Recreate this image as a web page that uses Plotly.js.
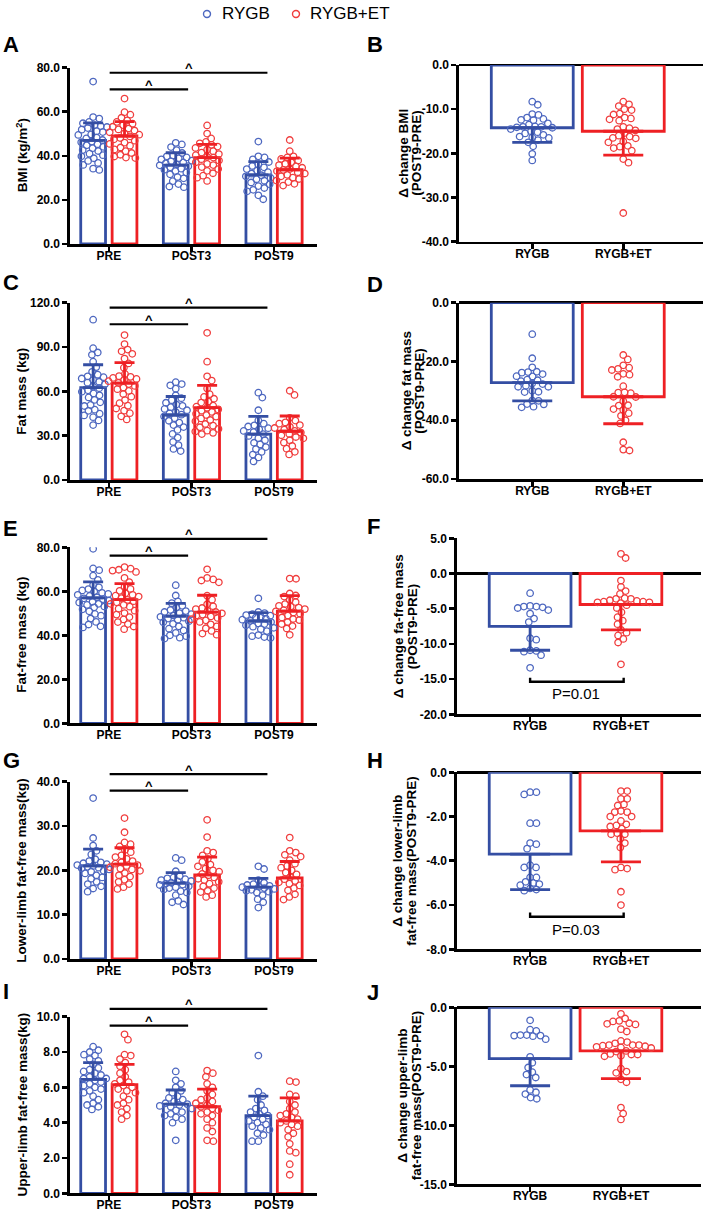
<!DOCTYPE html>
<html><head><meta charset="utf-8">
<script src="https://cdn.plot.ly/plotly-3.0.1.min.js"></script>
<style>html,body{margin:0;padding:0;background:#fff}#chart{width:709px;height:1213px}</style>
</head><body><div id="chart"></div>
<script>
// ---------------- DATA ----------------
const timepoints = ['PRE', 'POST3', 'POST9'];
const groups = ['RYGB', 'RYGB+ET'];

// A: BMI
const bmiMeanRYGB = [47.0, 35.8, 31.4];
const bmiSdRYGB = [8.0, 5.6, 6.0];
const bmiMeanET = [49.0, 39.2, 33.7];
const bmiSdET = [6.5, 6.0, 5.3];
const bmiPtsRYGB = [
  [73.7, 57.6, 56.9, 55.4, 54.8, 53.9, 53.5, 53.1, 52.6, 51.9, 51.2, 50.8, 49.7, 49.5, 48.3, 47.9, 47.2, 46.5, 46.2, 45.3, 44.8, 44.1, 43.5, 42.6, 42.2, 41.0, 40.3, 39.8, 38.9, 37.7, 36.8, 35.9, 34.2, 33.6],
  [45.9, 45.2, 44.0, 42.6, 41.3, 40.2, 39.8, 39.3, 38.9, 38.4, 37.8, 37.5, 37.0, 36.6, 36.1, 35.7, 35.3, 34.8, 34.2, 33.7, 33.1, 32.5, 31.6, 30.4, 29.8, 28.5, 27.2, 26.1, 25.8],
  [46.5, 39.8, 39.3, 38.4, 37.2, 36.1, 35.4, 34.8, 34.0, 33.3, 32.6, 31.9, 31.2, 30.7, 30.0, 29.4, 28.7, 27.9, 27.1, 26.3, 25.4, 24.6, 23.9, 22.1, 20.3]
];
const bmiPtsET = [
  [66.0, 59.8, 58.7, 57.3, 56.1, 55.4, 54.6, 53.9, 53.2, 52.4, 52.0, 51.5, 50.7, 50.2, 49.6, 48.8, 48.1, 47.5, 46.9, 46.0, 45.4, 44.6, 43.8, 42.9, 42.1, 41.3, 40.5, 39.7, 39.2, 39.0],
  [53.8, 50.1, 47.9, 46.3, 45.7, 45.0, 44.2, 43.6, 42.8, 42.1, 41.5, 40.8, 40.3, 39.6, 39.2, 38.5, 37.9, 37.1, 36.4, 35.8, 34.9, 34.0, 33.2, 32.1, 31.0, 30.1, 28.6],
  [47.2, 42.1, 39.8, 39.3, 38.6, 37.9, 37.1, 36.4, 35.8, 35.2, 34.6, 34.0, 33.6, 33.1, 32.6, 32.0, 31.4, 30.7, 30.1, 29.5, 28.8, 28.1, 27.3, 26.5]
];

// B: delta BMI
const dBmiMean = [-14.2, -15.0];
const dBmiSd = [3.3, 5.4];
const dBmiPtsRYGB = [-8.3, -9.0, -11.1, -11.3, -11.9, -12.2, -12.4, -12.5, -13.2, -13.5, -13.9, -14.0, -14.0, -14.1, -14.2, -14.5, -15.0, -15.2, -15.5, -15.8, -16.2, -16.4, -16.5, -17.0, -17.5, -18.4, -20.1, -21.6];
const dBmiPtsET = [-8.3, -8.9, -9.3, -10.0, -10.2, -11.0, -11.2, -11.9, -12.1, -12.3, -12.6, -14.0, -14.3, -14.5, -14.8, -15.4, -16.0, -16.2, -16.5, -16.6, -17.3, -17.5, -18.3, -18.5, -18.8, -19.4, -21.3, -22.1, -33.5];

// C: fat mass
const fmMeanRYGB = [62.5, 44.0, 31.0];
const fmSdRYGB = [15.5, 12.5, 12.0];
const fmMeanET = [65.5, 49.0, 33.0];
const fmSdET = [14.0, 15.0, 10.3];
const fmPtsRYGB = [
  [108.5, 89.2, 86.3, 84.7, 80.1, 76.4, 73.2, 71.3, 70.2, 69.6, 68.7, 67.8, 66.5, 65.9, 64.8, 63.2, 62.1, 60.7, 59.8, 58.6, 57.3, 55.9, 54.2, 52.6, 50.8, 50.1, 47.6, 46.8, 44.9, 43.7, 42.5, 40.3, 37.2],
  [66.2, 64.9, 64.1, 61.8, 57.3, 55.4, 54.0, 52.3, 51.1, 50.2, 49.3, 48.1, 47.2, 46.0, 45.1, 44.2, 43.0, 41.8, 40.1, 38.9, 37.2, 35.8, 33.9, 31.2, 28.7, 25.8, 23.6, 21.0, 19.6],
  [59.1, 55.8, 47.2, 40.3, 38.1, 37.0, 36.2, 35.1, 34.3, 33.2, 32.4, 31.0, 29.8, 28.3, 26.9, 25.2, 24.1, 22.3, 20.9, 19.0, 17.2, 15.3, 12.6]
];
const fmPtsET = [
  [98.1, 92.0, 88.3, 87.1, 85.4, 82.2, 78.9, 76.0, 71.8, 70.3, 69.8, 69.1, 68.4, 67.7, 66.9, 65.8, 64.9, 63.7, 62.6, 61.5, 60.3, 58.2, 56.4, 54.1, 52.0, 50.3, 48.4, 46.9, 45.2, 43.1, 41.0],
  [99.6, 80.1, 70.2, 67.3, 62.0, 58.1, 56.2, 55.0, 53.1, 52.4, 50.3, 49.6, 48.9, 47.8, 46.9, 46.1, 44.8, 44.0, 42.9, 41.7, 40.6, 39.8, 37.9, 36.8, 35.7, 34.6, 33.4, 32.8, 31.9, 31.1],
  [60.4, 57.6, 42.1, 40.2, 39.0, 38.1, 37.2, 36.0, 35.2, 34.1, 33.3, 32.1, 31.2, 30.3, 29.1, 28.2, 26.9, 25.3, 23.0, 21.2, 19.1, 17.3]
];

// D: delta fat mass
const dFmMean = [-27.2, -32.0];
const dFmSd = [6.2, 9.2];
const dFmPtsRYGB = [-10.7, -18.9, -22.0, -23.5, -23.6, -23.8, -24.3, -25.0, -25.1, -26.2, -26.4, -26.7, -27.5, -27.7, -28.3, -28.6, -28.6, -30.0, -30.3, -30.4, -33.3, -33.4, -34.5, -34.6, -35.4, -35.6];
const dFmPtsET = [-17.8, -19.3, -21.3, -22.1, -22.5, -22.9, -24.2, -24.5, -25.2, -28.4, -30.5, -30.6, -30.8, -32.0, -32.1, -33.5, -34.9, -35.0, -36.2, -36.5, -37.6, -38.5, -40.0, -41.1, -47.5, -50.0, -50.3];

// E: fat-free mass
const ffmMeanRYGB = [57.0, 48.7, 46.5];
const ffmSdRYGB = [7.3, 5.8, 3.8];
const ffmMeanET = [56.2, 50.5, 51.0];
const ffmSdET = [7.3, 7.7, 7.0];
const ffmPtsRYGB = [
  [79.3, 70.4, 69.6, 67.1, 65.2, 62.9, 61.8, 61.0, 60.4, 59.9, 59.3, 58.8, 58.4, 57.9, 57.3, 56.8, 56.4, 55.8, 55.2, 54.9, 54.3, 53.8, 53.1, 52.7, 51.8, 50.9, 49.7, 48.9, 47.6, 46.1, 44.9, 44.1, 43.6],
  [62.8, 58.1, 55.4, 54.6, 53.4, 52.6, 51.5, 51.0, 50.6, 50.1, 49.6, 49.0, 48.4, 48.0, 47.6, 47.1, 46.4, 45.9, 45.2, 44.1, 43.0, 42.2, 41.1, 40.0, 39.6, 38.9, 38.5],
  [56.8, 50.6, 50.1, 49.6, 49.2, 48.9, 48.4, 48.1, 47.6, 47.1, 46.6, 46.0, 45.4, 45.1, 44.6, 43.9, 43.4, 42.8, 41.9, 40.1, 39.6, 39.2, 38.8]
];
const ffmPtsET = [
  [71.0, 70.3, 69.8, 69.4, 68.8, 66.1, 64.2, 62.0, 61.1, 60.2, 59.1, 58.4, 58.0, 57.6, 56.9, 56.1, 55.5, 55.0, 54.3, 53.8, 53.0, 52.1, 51.2, 50.1, 49.4, 48.3, 47.2, 46.0, 45.1, 44.0, 42.8],
  [70.0, 66.1, 65.4, 64.9, 64.1, 58.0, 56.2, 54.1, 53.2, 52.4, 51.9, 51.1, 50.6, 50.0, 49.4, 49.0, 48.6, 47.9, 47.3, 46.8, 46.1, 45.0, 44.1, 43.2, 42.0, 40.8, 40.3],
  [65.8, 65.7, 59.0, 58.1, 57.6, 56.1, 55.1, 54.2, 53.4, 53.0, 52.6, 51.9, 51.4, 50.9, 50.4, 49.8, 49.0, 48.1, 47.4, 46.9, 46.0, 45.1, 44.2, 43.1, 40.2]
];

// F: delta fat-free mass
const dFfmMean = [-7.5, -4.4];
const dFfmSd = [3.4, 3.6];
const dFfmPtsRYGB = [-2.8, -4.6, -4.7, -4.7, -4.8, -4.9, -5.2, -5.7, -6.4, -6.9, -9.2, -9.4, -10.9, -11.0, -11.1, -11.6, -13.4];
const dFfmPtsET = [2.8, 2.2, -1.0, -1.9, -2.5, -2.9, -3.5, -3.6, -3.6, -3.8, -3.9, -4.0, -4.0, -4.1, -4.1, -4.2, -4.5, -4.9, -5.5, -6.2, -6.7, -7.2, -8.0, -8.4, -8.8, -9.3, -9.8, -12.9];

// G: lower-limb fat-free mass
const llMeanRYGB = [21.0, 17.1, 16.2];
const llSdRYGB = [3.8, 2.4, 2.0];
const llMeanET = [21.4, 19.0, 18.3];
const llSdET = [3.7, 4.0, 3.7];
const llPtsRYGB = [
  [36.3, 27.3, 25.6, 24.4, 23.6, 22.5, 22.1, 21.8, 21.6, 21.4, 21.2, 21.0, 20.8, 20.6, 20.5, 20.2, 19.9, 19.7, 19.3, 18.9, 18.4, 18.1, 17.4, 16.9, 16.4, 15.9, 15.2],
  [22.8, 22.3, 19.8, 18.7, 18.4, 18.2, 18.0, 17.8, 17.6, 17.5, 17.2, 17.0, 16.8, 16.7, 16.4, 16.2, 16.0, 15.7, 15.3, 15.0, 14.4, 13.1, 12.8, 12.3],
  [20.9, 20.3, 17.8, 17.2, 16.9, 16.7, 16.5, 16.3, 16.2, 16.0, 15.8, 15.6, 15.4, 15.2, 15.0, 14.4, 13.5, 12.8, 11.6]
];
const llPtsET = [
  [31.8, 28.6, 26.3, 25.9, 25.4, 24.6, 24.1, 23.4, 23.0, 22.6, 22.1, 21.8, 21.5, 21.2, 21.0, 20.7, 20.4, 20.2, 19.9, 19.4, 18.9, 18.6, 17.9, 17.4, 16.9, 16.2, 15.8],
  [31.4, 27.5, 24.4, 24.0, 23.4, 22.6, 21.9, 21.3, 20.9, 20.4, 20.0, 19.7, 19.2, 18.9, 18.4, 18.1, 17.8, 17.4, 17.0, 16.4, 16.0, 15.4, 15.1, 14.4, 14.0],
  [27.4, 24.4, 24.0, 23.5, 23.1, 22.3, 21.5, 21.0, 20.6, 20.0, 19.5, 19.1, 18.5, 18.0, 17.6, 17.3, 17.0, 16.6, 16.0, 15.5, 14.6, 14.0, 13.4]
];

// H: delta lower-limb fat-free mass
const dLlMean = [-3.7, -2.65];
const dLlSd = [1.6, 1.4];
const dLlPtsRYGB = [-0.9, -1.0, -0.9, -2.3, -2.3, -3.2, -3.25, -3.45, -4.2, -4.3, -4.3, -4.75, -4.75, -4.95, -5.05, -5.1, -5.0, -5.25, -5.3, -5.35];
const dLlPtsET = [-0.85, -0.85, -1.2, -1.2, -1.45, -1.5, -1.75, -1.8, -1.8, -2.0, -2.0, -2.2, -2.35, -2.4, -2.45, -2.55, -2.75, -2.8, -2.8, -3.0, -3.2, -3.4, -4.3, -4.35, -4.4, -5.4, -6.0];

// I: upper-limb fat-free mass
const ulMeanRYGB = [6.45, 5.05, 4.4];
const ulSdRYGB = [0.95, 0.8, 1.1];
const ulMeanET = [6.15, 4.9, 4.1];
const ulSdET = [1.15, 1.0, 1.3];
const ulPtsRYGB = [
  [8.3, 8.1, 8.0, 7.85, 7.8, 7.6, 7.5, 7.3, 7.1, 7.0, 6.9, 6.8, 6.7, 6.6, 6.5, 6.5, 6.4, 6.3, 6.2, 6.1, 6.0, 5.9, 5.8, 5.7, 5.5, 5.3, 5.1, 5.0, 4.9, 4.75],
  [6.9, 6.4, 6.2, 6.0, 5.8, 5.7, 5.5, 5.4, 5.3, 5.2, 5.1, 5.05, 5.0, 4.95, 4.9, 4.8, 4.7, 4.6, 4.5, 4.4, 4.3, 4.2, 4.0, 3.0],
  [7.8, 5.75, 5.5, 5.3, 5.0, 4.8, 4.7, 4.6, 4.5, 4.4, 4.3, 4.2, 4.1, 4.0, 3.9, 3.8, 3.7, 3.6, 3.4, 3.3, 2.95, 2.95]
];
const ulPtsET = [
  [9.0, 8.7, 7.85, 7.8, 7.6, 7.4, 7.2, 7.0, 6.8, 6.6, 6.4, 6.3, 6.2, 6.1, 6.0, 5.9, 5.8, 5.7, 5.5, 5.3, 5.1, 5.0, 4.8, 4.6, 4.4, 4.2],
  [6.95, 6.8, 6.6, 6.2, 6.0, 5.8, 5.6, 5.4, 5.3, 5.2, 5.1, 5.0, 4.9, 4.8, 4.7, 4.6, 4.5, 4.4, 4.2, 4.0, 3.7, 3.5, 3.0, 2.95],
  [6.35, 6.3, 5.6, 5.5, 5.2, 5.0, 4.8, 4.6, 4.5, 4.4, 4.3, 4.2, 4.1, 4.0, 3.9, 3.8, 3.6, 3.4, 3.2, 2.8, 2.4, 2.3, 1.65, 1.05]
];

// J: delta upper-limb fat-free mass
const dUlMean = [-4.35, -3.7];
const dUlSd = [2.3, 2.35];
const dUlPtsRYGB = [-1.1, -1.9, -2.0, -2.35, -2.35, -2.4, -2.4, -2.45, -2.7, -4.2, -4.7, -5.1, -5.5, -5.7, -5.95, -7.0, -7.2, -7.35, -7.65, -7.75];
const dUlPtsET = [-0.55, -0.95, -1.15, -1.2, -1.35, -1.4, -1.45, -1.85, -2.05, -2.85, -2.95, -3.05, -3.2, -3.2, -3.2, -3.25, -3.3, -3.35, -3.4, -3.45, -3.7, -3.75, -3.95, -4.0, -4.0, -4.1, -4.15, -5.2, -5.45, -5.55, -6.1, -6.35, -8.5, -9.0, -9.5];

// ---------------- STYLE / LAYOUT ----------------
const W = 709, H = 1213;
const FONT = '"Liberation Sans", Arial, sans-serif';
const barColor = ['rgb(52,78,163)', 'rgb(238,32,36)'];
const ptColor = ['rgb(78,104,192)', 'rgb(240,62,62)'];
const LX = [70, 317], LXR = [-0.47, 2.52], LOFF = [-0.19, 0.19], LBW = 0.30;
const RXR = [-0.805, 1.876], RBW = 0.9;
// legend placement (pixels): marker centre x, text left x, centre y
const legendPos = [{mx: 207, tx: 221}, {mx: 296, tx: 309}], legendY = 14;

const panels = [
  {side: 'L', letter: 'A', top: 67.7, bottom: 244, yr: [0, 80], ytv: [0, 20, 40, 60, 80], title: 'BMI (kg/m<sup>2</sup>)',
   mean: [bmiMeanRYGB, bmiMeanET], sd: [bmiSdRYGB, bmiSdET], pts: [bmiPtsRYGB, bmiPtsET], sig: [77.7, 70.2], ly: 44.5},
  {side: 'R', letter: 'B', top: 65, bottom: 241.7, x: [459, 703], yr: [-40, 0], ytv: [0, -10, -20, -30, -40], t1: 'Δ change BMI', t2: '(POST9-PRE)', t1x: 403.5, t2x: 416.5,
   mean: dBmiMean, sd: dBmiSd, pts: [dBmiPtsRYGB, dBmiPtsET], ly: 44.5},
  {side: 'L', letter: 'C', top: 302.7, bottom: 480, yr: [0, 120], ytv: [0, 30, 60, 90, 120], title: 'Fat mass (kg)',
   mean: [fmMeanRYGB, fmMeanET], sd: [fmSdRYGB, fmSdET], pts: [fmPtsRYGB, fmPtsET], sig: [116.6, 105.4], ly: 282.5},
  {side: 'R', letter: 'D', top: 302.7, bottom: 479, x: [459, 703], yr: [-60, 0], ytv: [0, -20, -40, -60], t1: 'Δ change fat mass', t2: '(POST9-PRE)', t1x: 406.5, t2x: 420,
   mean: dFmMean, sd: dFmSd, pts: [dFmPtsRYGB, dFmPtsET], ly: 284},
  {side: 'L', letter: 'E', top: 547.3, bottom: 723.3, yr: [0, 80], ytv: [0, 20, 40, 60, 80], title: 'Fat-free mass (kg)',
   mean: [ffmMeanRYGB, ffmMeanET], sd: [ffmSdRYGB, ffmSdET], pts: [ffmPtsRYGB, ffmPtsET], sig: [83.8, 76.2], ly: 528.5},
  {side: 'R', letter: 'F', top: 538.3, bottom: 714.3, x: [457, 700.5], yr: [-20, 5], ytv: [5, 0, -5, -10, -15, -20], t1: 'Δ change fa-free mass', t2: '(POST9-PRE)', t1x: 398, t2x: 412,
   mean: dFfmMean, sd: dFfmSd, pts: [dFfmPtsRYGB, dFfmPtsET], ly: 526.5, bracket: {y: -15.37, tip: -14.8, text: 'P=0.01', ty: -17.1}},
  {side: 'L', letter: 'G', top: 781.7, bottom: 959, yr: [0, 40], ytv: [0, 10, 20, 30, 40], title: 'Lower-limb fat-free mass(kg)',
   mean: [llMeanRYGB, llMeanET], sd: [llSdRYGB, llSdET], pts: [llPtsRYGB, llPtsET], sig: [41.7, 38.0], ly: 760.5},
  {side: 'R', letter: 'H', top: 772.3, bottom: 949.3, x: [457, 700.5], yr: [-8, 0], ytv: [0, -2, -4, -6, -8], t1: 'Δ change lower-limb', t2: 'fat-free mass(POST9-PRE)', t1x: 398, t2x: 412,
   mean: dLlMean, sd: dLlSd, pts: [dLlPtsRYGB, dLlPtsET], ly: 760.5, bracket: {y: -6.53, tip: -6.34, text: 'P=0.03', ty: -7.09}},
  {side: 'L', letter: 'I', top: 1016.7, bottom: 1193.3, yr: [0, 10], ytv: [0, 2, 4, 6, 8, 10], title: 'Upper-limb fat-free mass(kg)',
   mean: [ulMeanRYGB, ulMeanET], sd: [ulSdRYGB, ulSdET], pts: [ulPtsRYGB, ulPtsET], sig: [10.44, 9.49], ly: 991.5},
  {side: 'R', letter: 'J', top: 1007.3, bottom: 1184.3, x: [457, 700.5], yr: [-15, 0], ytv: [0, -5, -10, -15], t1: 'Δ change upper-limb', t2: 'fat-free mass(POST9-PRE)', t1x: 403, t2x: 416.5,
   mean: dUlMean, sd: dUlSd, pts: [dUlPtsRYGB, dUlPtsET], ly: 992.5}
];

// simple beeswarm (pixel space) -> horizontal offsets
function swarm(vals, pxPerY, d, maxSpread) {
  const order = vals.map((v, i) => i).sort((a, b) => vals[b] - vals[a]);
  const placed = [], out = new Array(vals.length);
  for (const i of order) {
    const y = vals[i] * pxPerY;
    const cands = [0];
    for (const p of placed) {
      const dy = Math.abs(p.y - y);
      if (dy < d) { const dx = Math.sqrt(d * d - dy * dy); cands.push(p.x + dx, p.x - dx); }
    }
    cands.sort((a, b) => Math.abs(a) - Math.abs(b));
    let best = null;
    for (const c of cands) {
      if (Math.abs(c) > maxSpread) continue;
      if (placed.every(p => (p.x - c) ** 2 + (p.y - y) ** 2 >= d * d - 0.01)) { best = c; break; }
    }
    if (best === null) {
      let bs = -Infinity;
      for (let c = -maxSpread; c <= maxSpread; c += 0.5) {
        const m = Math.min(...placed.map(p => Math.hypot(p.x - c, p.y - y)));
        if (m > bs) { bs = m; best = c; }
      }
    }
    placed.push({x: best, y}); out[i] = best;
  }
  return out;
}

const fmt = v => v.toFixed(1);
const data = [], layout = {
  width: W, height: H, margin: {l: 0, r: 0, t: 0, b: 0},
  paper_bgcolor: '#fff', plot_bgcolor: 'rgba(0,0,0,0)',
  barmode: 'overlay', showlegend: false,
  font: {family: FONT, color: '#000'},
  shapes: [], annotations: []
};
const bold = (size) => ({family: FONT, size: size, color: '#000', weight: 700});

// custom legend: open-circle shapes (pixel-sized) + text
groups.forEach((g, i) => {
  const lp = legendPos[i];
  layout.shapes.push({type: 'circle', xref: 'paper', yref: 'paper', xsizemode: 'pixel', ysizemode: 'pixel',
    xanchor: lp.mx / W, yanchor: 1 - legendY / H, x0: -3.5, x1: 3.5, y0: -3.5, y1: 3.5,
    line: {color: ptColor[i], width: 1.4}, fillcolor: 'rgba(0,0,0,0)'});
  layout.annotations.push({xref: 'paper', yref: 'paper', x: lp.tx / W, y: 1 - legendY / H, xanchor: 'left',
    yanchor: 'middle', text: g, showarrow: false, borderpad: 0, font: {family: FONT, size: 17, color: '#000'}});
});

panels.forEach((p, k) => {
  const n = k + 1, xa = 'x' + (n === 1 ? '' : n), ya = 'y' + (n === 1 ? '' : n);
  const xKey = 'xaxis' + (n === 1 ? '' : n), yKey = 'yaxis' + (n === 1 ? '' : n);
  const xpx = p.side === 'L' ? LX : p.x;
  const xr = p.side === 'L' ? LXR : RXR;
  const pxPerX = (xpx[1] - xpx[0]) / (xr[1] - xr[0]);
  const pxPerY = (p.bottom - p.top) / (p.yr[1] - p.yr[0]);
  layout[xKey] = {
    domain: [xpx[0] / W, xpx[1] / W], range: xr, anchor: ya, fixedrange: true,
    tickmode: 'array', tickvals: p.side === 'L' ? timepoints.map((c, i) => i) : groups.map((c, i) => i),
    ticktext: p.side === 'L' ? timepoints : groups,
    showline: true, linecolor: '#000', linewidth: 2.6, ticks: 'outside', ticklen: 5, tickwidth: 2.6, tickcolor: '#000',
    ticklabelstandoff: -6,
    showgrid: false, zeroline: false, tickfont: bold(12)
  };
  layout[yKey] = {
    domain: [1 - p.bottom / H, 1 - p.top / H], range: p.yr, anchor: xa, fixedrange: true,
    tickmode: 'array', tickvals: p.ytv, ticktext: p.ytv.map(fmt),
    showline: true, linecolor: '#000', linewidth: 2.6, ticks: 'outside', ticklen: 5, tickwidth: 2.6, tickcolor: '#000',
    showgrid: false, zeroline: p.side === 'R', zerolinecolor: '#000', zerolinewidth: 2.6, tickfont: bold(12)
  };

  if (p.side === 'L') {
    for (let g = 0; g < 2; g++) {
      const xs = timepoints.map((c, i) => i + LOFF[g]);
      data.push({type: 'bar', x: xs, y: p.mean[g], width: LBW, xaxis: xa, yaxis: ya, name: groups[g],
        marker: {color: '#fff', line: {color: barColor[g], width: 2.8}}, hoverinfo: 'skip'});
    }
    for (let g = 0; g < 2; g++) {
      const px = [], py = [];
      p.pts[g].forEach((arr, i) => {
        const off = swarm(arr, pxPerY, 6.3, 16);
        arr.forEach((v, j) => { px.push(i + LOFF[g] + off[j] / pxPerX); py.push(v); });
      });
      data.push({type: 'scatter', mode: 'markers', x: px, y: py, xaxis: xa, yaxis: ya, name: groups[g],
        marker: {symbol: 'circle-open', size: 6.5, color: ptColor[g], line: {width: 1.3, color: ptColor[g]}}, hoverinfo: 'skip'});
    }
    for (let g = 0; g < 2; g++) {
      const xs = timepoints.map((c, i) => i + LOFF[g]);
      data.push({type: 'scatter', mode: 'markers', x: xs, y: p.mean[g], xaxis: xa, yaxis: ya, name: groups[g],
        marker: {size: 1, opacity: 0}, hoverinfo: 'skip',
        error_y: {type: 'data', symmetric: false, array: p.sd[g], arrayminus: p.sd[g].map(() => 0),
                  color: barColor[g], thickness: 2.8, width: 10}});
    }
    // significance lines
    const top = p.yr[1];
    const ends = [1.92, 0.96];
    p.sig.forEach((v, s) => {
      const fy = v / top;
      layout.shapes.push({type: 'line', xref: xa, yref: ya + ' domain', x0: 0.01, x1: ends[s], y0: fy, y1: fy,
        line: {color: '#000', width: 2.2}});
      layout.annotations.push({xref: xa, yref: ya + ' domain', x: (0.01 + ends[s]) / 2, y: fy, yanchor: 'middle',
        yshift: 5, text: '^', showarrow: false, font: bold(13)});
    });
    layout.annotations.push({xref: 'paper', yref: 'paper', x: 21.5 / W, y: 1 - (p.top + p.bottom) / 2 / H,
      xanchor: 'center', yanchor: 'middle', textangle: -90, text: p.title, showarrow: false, font: bold(13.5)});
  } else {
    for (let g = 0; g < 2; g++) {
      data.push({type: 'bar', x: [g], y: [p.mean[g]], width: RBW, xaxis: xa, yaxis: ya, name: groups[g],
        marker: {color: '#fff', line: {color: barColor[g], width: 2.8}}, hoverinfo: 'skip'});
    }
    for (let g = 0; g < 2; g++) {
      const off = swarm(p.pts[g], pxPerY, 6.3, 32);
      data.push({type: 'scatter', mode: 'markers', x: p.pts[g].map((v, j) => g + off[j] / pxPerX), y: p.pts[g],
        xaxis: xa, yaxis: ya, name: groups[g],
        marker: {symbol: 'circle-open', size: 6.5, color: ptColor[g], line: {width: 1.3, color: ptColor[g]}}, hoverinfo: 'skip'});
    }
    for (let g = 0; g < 2; g++) {
      const neg = p.mean[g] < 0;
      data.push({type: 'scatter', mode: 'markers', x: [g], y: [p.mean[g]], xaxis: xa, yaxis: ya, name: groups[g],
        marker: {size: 1, opacity: 0}, hoverinfo: 'skip',
        error_y: {type: 'data', symmetric: false, array: [neg ? 0 : p.sd[g]], arrayminus: [neg ? p.sd[g] : 0],
                  color: barColor[g], thickness: 2.8, width: 20}});
    }
    if (p.bracket) {
      const b = p.bracket;
      layout.shapes.push({type: 'path', xref: xa, yref: ya,
        path: `M 0,${b.tip} L 0,${b.y} L 1.03,${b.y} L 1.03,${b.tip}`, line: {color: '#000', width: 2.4}});
      layout.annotations.push({xref: xa, yref: ya, x: 0.5, y: b.ty, text: b.text, showarrow: false,
        xanchor: 'center', yanchor: 'middle', font: {family: FONT, size: 15, color: '#000'}});
    }
    const cy = 1 - (p.top + p.bottom) / 2 / H;
    layout.annotations.push({xref: 'paper', yref: 'paper', x: p.t1x / W, y: cy, xanchor: 'center', yanchor: 'middle',
      textangle: -90, text: p.t1, showarrow: false, font: bold(13.5)});
    layout.annotations.push({xref: 'paper', yref: 'paper', x: p.t2x / W, y: cy, xanchor: 'center', yanchor: 'middle',
      textangle: -90, text: p.t2, showarrow: false, font: bold(13.5)});
  }
  layout.annotations.push({xref: 'paper', yref: 'paper', x: (p.side === 'L' ? 1 : 365) / W, y: 1 - p.ly / H,
    xanchor: 'left', yanchor: 'middle', text: p.letter, showarrow: false, font: bold(22)});
});

Plotly.newPlot('chart', data, layout, {staticPlot: true, displayModeBar: false});
</script>
</body></html>
